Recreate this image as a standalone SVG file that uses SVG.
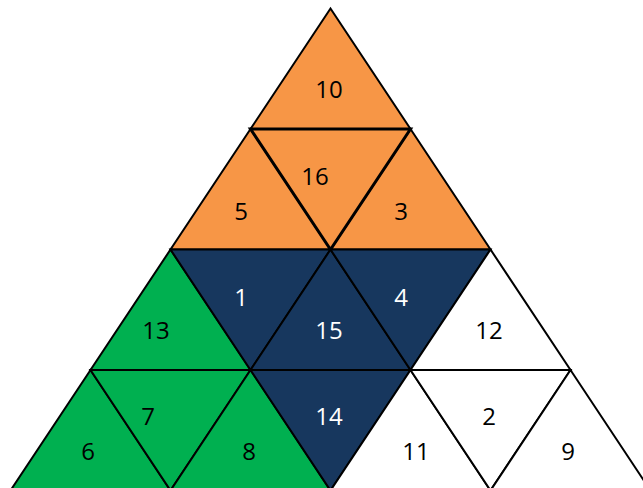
<svg xmlns="http://www.w3.org/2000/svg" width="643" height="488" viewBox="0 0 643 488">
<style>
.t{stroke:#000;stroke-width:2;stroke-linejoin:miter}
.o{fill:#F79646}.n{fill:#17375E}.g{fill:#00B050}.w{fill:#FFFFFF}
.th{stroke-width:3}
text{font-family:"Open Sans","Liberation Sans",sans-serif;font-size:24px;text-anchor:middle;dominant-baseline:central;fill:#000}
.lt{fill:#FFFFFF}
</style>
<rect width="643" height="488" fill="#FFFFFF"/>
<g id="t10"><polygon class="t o" points="330.5,8.5 250.5,129 410.5,129"/><text x="329" y="88">10</text></g>
<g id="t5"><polygon class="t o" points="250.5,129 170.5,249.5 330.5,249.5"/><text x="241" y="210">5</text></g>
<g id="t3"><polygon class="t o" points="410.5,129 330.5,249.5 490.5,249.5"/><text x="401" y="210">3</text></g>
<g id="t16"><polygon class="t o th" points="250.5,129 410.5,129 330.5,249.5"/><text x="315" y="175">16</text></g>
<g id="t13"><polygon class="t g" points="170.5,249.5 90.5,370 250.5,370"/><text x="156" y="329">13</text></g>
<g id="t1"><polygon class="t n" points="170.5,249.5 330.5,249.5 250.5,370"/><text class="lt" x="241" y="296">1</text></g>
<g id="t15"><polygon class="t n" points="330.5,249.5 250.5,370 410.5,370"/><text class="lt" x="329" y="329">15</text></g>
<g id="t4"><polygon class="t n" points="330.5,249.5 490.5,249.5 410.5,370"/><text class="lt" x="401" y="296">4</text></g>
<g id="t12"><polygon class="t w" points="490.5,249.5 410.5,370 570.5,370"/><text x="489" y="329">12</text></g>
<g id="t6"><polygon class="t g" points="90.5,370 10.5,490.5 170.5,490.5"/><text x="88" y="450">6</text></g>
<g id="t7"><polygon class="t g" points="90.5,370 250.5,370 170.5,490.5"/><text x="148" y="415">7</text></g>
<g id="t8"><polygon class="t g" points="250.5,370 170.5,490.5 330.5,490.5"/><text x="249" y="450">8</text></g>
<g id="t14"><polygon class="t n" points="250.5,370 410.5,370 330.5,490.5"/><text class="lt" x="329" y="415">14</text></g>
<g id="t11"><polygon class="t w" points="410.5,370 330.5,490.5 490.5,490.5"/><text x="416" y="450">11</text></g>
<g id="t2"><polygon class="t w" points="410.5,370 570.5,370 490.5,490.5"/><text x="489" y="415">2</text></g>
<g id="t9"><polygon class="t w" points="570.5,370 490.5,490.5 650.5,490.5"/><text x="568" y="450">9</text></g>
<g id="connectors"></g>
</svg>
